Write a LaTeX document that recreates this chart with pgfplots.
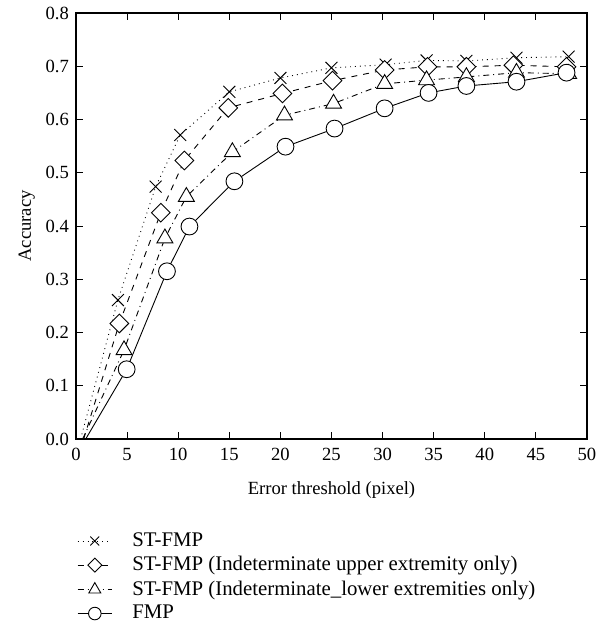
\documentclass[border=0pt]{standalone}
\usepackage{fontspec}
\setmainfont{Liberation Serif}
\usepackage{pgfplots}
\pgfplotsset{compat=1.18}

\begin{document}
\begin{tikzpicture}
  % page frame, same proportions as the reference (1px = 0.5pt)
  \path (-38pt,-97pt) rectangle (269pt,219.5pt);
  \begin{axis}[
      scale only axis, width=255.5pt, height=213pt,
      xmin=0, xmax=50, ymin=0, ymax=0.8,
      xtick={0,5,...,50}, ytick={0,0.1,...,0.8},
      yticklabel style={/pgf/number format/.cd,fixed,fixed zerofill,precision=1},
      xticklabel style={yshift=-1pt},
      /pgf/number format/assume math mode=true,
      tick align=inside, major tick length=3.5pt,
      tick style={black, line width=0.5pt},
      axis line style={line width=0.6pt},
      tick label style={font=\fontsize{9.3}{11}\selectfont},
      label style={font=\fontsize{9.3}{11}\selectfont},
      xlabel={Error threshold (pixel)}, ylabel={Accuracy},
      xlabel style={yshift=-3.5pt}, ylabel style={yshift=-1.5pt},
      legend style={draw=none, at={(-0.01,-0.2)}, anchor=north west,
        font=\fontsize{10.4}{11}\selectfont, row sep=-0.5pt,
        /tikz/every odd column/.append style={column sep=8pt}},
      legend cell align=left,
      legend image post style={every mark/.append style={scale=0.75}},
      every axis plot/.append style={black, line width=0.45pt, mark phase=2},
    ]
    \addplot[dotted, mark=x, mark size=4.2pt, mark options={solid}] coordinates {
      (0.45,0) (4.1,0.261) (7.8,0.474) (10.2,0.571) (15.0,0.652) (20.0,0.678)
      (25.0,0.697) (30.3,0.703) (34.3,0.711) (38.2,0.710) (43.1,0.716) (48.2,0.718)};
    \addlegendentry{ST-FMP}
    \addplot[dashed, mark=square*, mark size=3.3pt, mark options={solid, fill=white, rotate=45}] coordinates {
      (0.75,0) (4.24,0.217) (8.3,0.425) (10.6,0.523) (14.9,0.622) (20.2,0.649)
      (25.1,0.673) (30.2,0.693) (34.4,0.699) (38.2,0.699) (42.8,0.702) (48.0,0.699)};
    \addlegendentry{ST-FMP (Indeterminate upper extremity only)}
    \addplot[dashdotted, mark=triangle*, mark size=4.6pt, mark options={solid, fill=white}] coordinates {
      (0.65,0) (4.7,0.167) (8.7,0.377) (10.8,0.455) (15.3,0.539) (20.4,0.608)
      (25.2,0.630) (30.2,0.667) (34.3,0.674) (38.2,0.680) (43.1,0.688) (48.2,0.686)};
    \addlegendentry{ST-FMP (Indeterminate\_lower extremities only)}
    \addplot[solid, mark=*, mark size=4.2pt, mark options={fill=white}] coordinates {
      (0.95,0) (4.96,0.131) (8.9,0.315) (11.1,0.399) (15.5,0.484) (20.5,0.549)
      (25.3,0.583) (30.2,0.621) (34.5,0.650) (38.2,0.663) (43.1,0.671) (48.0,0.688)};
    \addlegendentry{FMP}
  \end{axis}
\end{tikzpicture}
\end{document}
